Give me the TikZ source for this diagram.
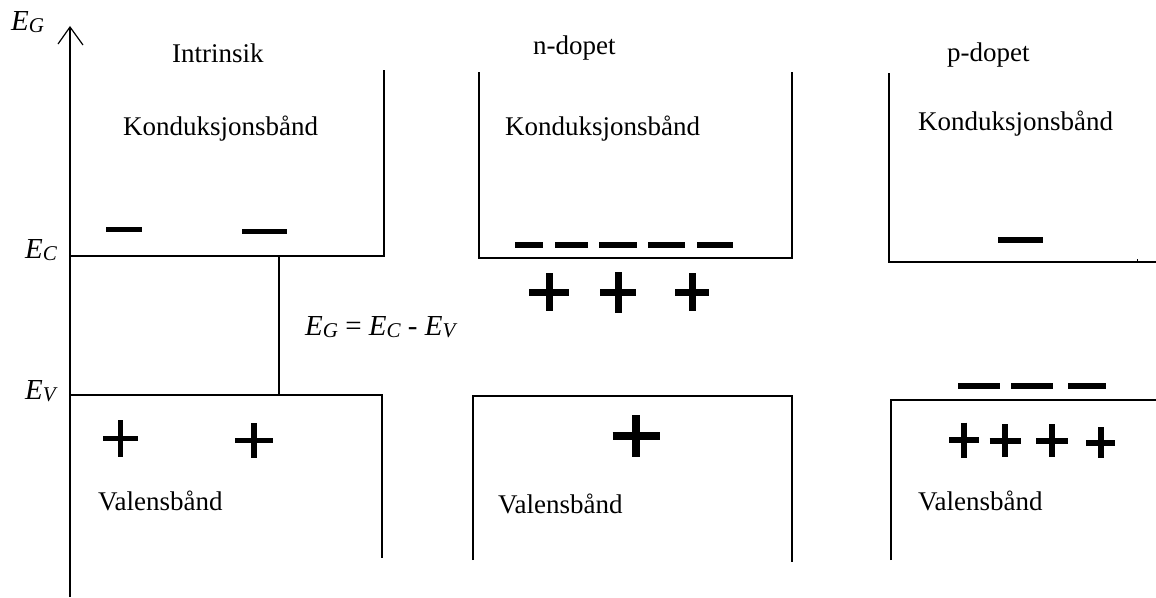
\documentclass[tikz,border=0pt]{standalone}
\usepackage{fontspec}
\setmainfont{Liberation Serif}
\newcommand\enrg[1]{{\itshape E}\raisebox{-2.5pt}{\fontsize{21}{21}\selectfont\itshape #1}}
\newcommand\psign[5]{\draw[line width=#5] ({#1-#3},#2)--({#1+#3},#2) (#1,{#2-#4})--(#1,{#2+#4});}
\newcommand\msign[4]{\draw[line width=#4] (#1,#3)--(#2,#3);}
\tikzset{
  band/.style={line width=1.6pt, line cap=butt, line join=miter},
  lbl/.style={inner sep=0pt, anchor=base west, font=\fontsize{27}{32}\selectfont},
  elbl/.style={inner sep=0pt, anchor=base west, font=\fontsize{29}{32}\selectfont}
}
\begin{document}
\begin{tikzpicture}[x=1pt,y=-1pt]
\useasboundingbox (0,0) rectangle (1156,597);
% axis
\coordinate (axtop) at (70,27);
\coordinate (axbot) at (70,597);
\draw[line width=1.3pt] (axbot) -- (axtop);
\draw[line width=1.2pt] (58,44) -- (axtop) -- (83,45);
\node[elbl] (eg) at (11,30) {\enrg{G}};
\node[elbl] (ec) at (25,258) {\enrg{C}};
\node[elbl] (ev) at (25,399) {\enrg{V}};
% intrinsic
\node[lbl] (tint) at (172,62) {Intrinsik};
\node[lbl] (kint) at (123,135) {Konduksjonsbånd};
\node[lbl] (vint) at (98,510) {Valensbånd};
\draw[band] (70,256) -- (384,256) -- (384,70);
\draw[band] (279,256) -- (279,396);
\draw[band] (70,395) -- (382,395) -- (382,558);
\node[elbl] (form) at (305,335) {\enrg{G} = \enrg{C} - \enrg{V}};
\msign{106}{142}{229.5}{5.5pt}
\msign{242}{287}{231.5}{5.5pt}
\psign{120.5}{438.5}{17.5}{18.5}{5.5pt}
\psign{254}{440.5}{19}{17.5}{5.5pt}
% n-dopet
\node[lbl] (tn) at (533,54) {n-dopet};
\node[lbl] (kn) at (505,135) {Konduksjonsbånd};
\node[lbl] (vn) at (498,513) {Valensbånd};
\draw[band] (479,72) -- (479,258) -- (792,258) -- (792,72);
\draw[band] (473,560) -- (473,396) -- (792,396) -- (792,562);
\msign{515}{543}{245}{6.5pt}
\msign{555}{588}{245}{6.5pt}
\msign{599}{637}{245}{6.5pt}
\msign{648}{685}{245}{6.5pt}
\msign{697}{733}{245}{6.5pt}
\psign{549}{292}{20}{19}{7pt}
\psign{618}{292.5}{18}{20.5}{7pt}
\psign{692}{292}{17}{19}{7pt}
\psign{636}{436}{23.5}{21}{7.5pt}
% p-dopet
\node[lbl] (tp) at (947,61) {p-dopet};
\node[lbl] (kp) at (918,130) {Konduksjonsbånd};
\node[lbl] (vp) at (918,510) {Valensbånd};
\draw[band] (889,73) -- (889,262) -- (1156,262);
\draw[line width=0.8pt] (1137,262) -- (1137,259);
\draw[band] (891,560) -- (891,400) -- (1156,400);
\msign{998}{1043}{240}{6.5pt}
\msign{958}{1000}{386}{6.5pt}
\msign{1011}{1053}{386}{6.5pt}
\msign{1068}{1106}{386}{6.5pt}
\psign{964}{440}{15}{17.5}{6pt}
\psign{1005}{440.5}{15.5}{16.5}{6pt}
\psign{1052}{440.5}{16}{16.5}{6pt}
\psign{1100.5}{442.5}{14.5}{15.5}{6pt}
\end{tikzpicture}
\end{document}
